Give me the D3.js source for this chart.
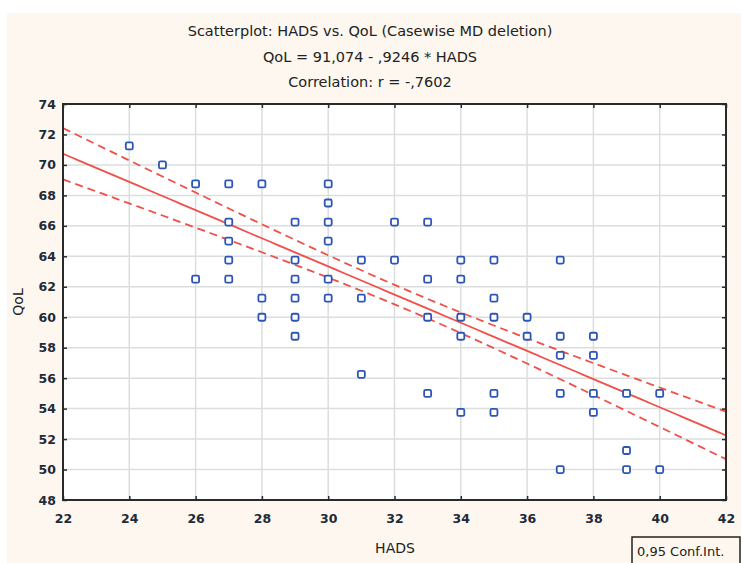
<!DOCTYPE html>
<html lang="en">
<head>
  <meta charset="utf-8">
  <title>HADS vs QoL</title>
  <style>
    body { margin: 0; background: #fff; }
    svg text { font-family: "DejaVu Sans", Verdana, sans-serif; }
  </style>
</head>
<body>
  <svg id="chart" width="743" height="563"></svg>

  <script src="https://d3js.org/d3.v7.min.js"></script>
  <script>

// data: HADS score and the QoL values seen at it
let hadsValues = [24, 25, 26, 27, 28, 29, 30, 31, 32, 33, 34, 35, 36, 37, 38, 39, 40]
let qolValues = [
  [71.25],
  [70],
  [68.75, 62.5],
  [68.75, 66.25, 65, 63.75, 62.5],
  [68.75, 61.25, 60],
  [66.25, 63.75, 62.5, 61.25, 60, 58.75],
  [68.75, 67.5, 66.25, 65, 62.5, 61.25],
  [63.75, 61.25, 56.25],
  [66.25, 63.75],
  [66.25, 62.5, 60, 55],
  [63.75, 62.5, 60, 58.75, 53.75],
  [63.75, 61.25, 60, 55, 53.75],
  [60, 58.75],
  [63.75, 58.75, 57.5, 55, 50],
  [58.75, 57.5, 55, 53.75],
  [55, 51.25, 50],
  [55, 50]
]

let xTicks = [22, 24, 26, 28, 30, 32, 34, 36, 38, 40, 42]
let yTicks = [48, 50, 52, 54, 56, 58, 60, 62, 64, 66, 68, 70, 72, 74]

// fit as printed in the title
let intercept = 91.074
let slope = -0.9246
let corr = -0.7602
// many markers are ties; the band width suggests ~112 cases in total
let nCases = 112
let titleLines = [
  "Scatterplot: HADS vs. QoL (Casewise MD deletion)",
  "QoL = 91,074 - ,9246  * HADS",
  "Correlation: r = -,7602"
]


let svg = d3.select("#chart")

// beige panel behind everything
svg.append("rect")
  .attr("x", 7).attr("y", 13)
  .attr("width", 734).attr("height", 560)
  .attr("fill", "#fdf7ef")

let x = d3.scaleLinear().domain([22, 42]).range([63, 726])
let y = d3.scaleLinear().domain([48, 74]).range([500, 104])

let plot = svg.append("g")

plot.append("rect")
  .attr("x", x(22)).attr("y", y(74))
  .attr("width", x(42) - x(22)).attr("height", y(48) - y(74))
  .attr("fill", "#fff")

// grid
plot.append("g").selectAll("line").data(xTicks.slice(1, -1))
  .enter().append("line")
    .attr("x1", d => x(d)).attr("x2", d => x(d))
    .attr("y1", y(74)).attr("y2", y(48))
    .attr("stroke", "#dadede").attr("stroke-width", 1.5)

plot.append("g").selectAll("line").data(yTicks.slice(1, -1))
  .enter().append("line")
    .attr("y1", d => y(d)).attr("y2", d => y(d))
    .attr("x1", x(22)).attr("x2", x(42))
    .attr("stroke", "#dadede").attr("stroke-width", 1.5)

// flatten points
let points = []
hadsValues.forEach((h, i) => {
  qolValues[i].forEach(q => points.push({x: h, y: q}))
})

// 95% confidence band for the fitted mean
// residual SE taken from the printed slope and r
let n = points.length
let mx = d3.mean(points, d => d.x)
let sxx = d3.sum(points, d => (d.x - mx) * (d.x - mx)) * nCases / n
let ssy = slope * slope * sxx / (corr * corr)
let se = Math.sqrt(ssy * (1 - corr * corr) / (nCases - 2))
let tval = 1.982

let xs = d3.range(22, 42.001, 0.25)
function band(sign) {
  return xs.map(v => {
    let half = tval * se * Math.sqrt(1 / nCases + (v - mx) * (v - mx) / sxx)
    return [v, intercept + slope * v + sign * half]
  })
}

let line = d3.line().x(d => x(d[0])).y(d => y(d[1]))

svg.append("clipPath").attr("id", "clip")
  .append("rect")
    .attr("x", x(22)).attr("y", y(74))
    .attr("width", x(42) - x(22)).attr("height", y(48) - y(74))

let fits = plot.append("g").attr("clip-path", "url(#clip)")

fits.append("path")
  .attr("d", line(xs.map(v => [v, intercept + slope * v])))
  .attr("fill", "none").attr("stroke", "#f0504a").attr("stroke-width", 1.8)

;[1, -1].forEach(s => {
  fits.append("path")
    .attr("d", line(band(s)))
    .attr("fill", "none").attr("stroke", "#f0504a").attr("stroke-width", 1.8)
    .attr("stroke-dasharray", "8,5")
})

// markers
plot.append("g").selectAll("rect").data(points)
  .enter().append("rect")
    .attr("x", d => x(d.x) - 3.5).attr("y", d => y(d.y) - 3.5)
    .attr("width", 7).attr("height", 7).attr("rx", 1.5)
    .attr("fill", "#fff").attr("stroke", "#2d55b5").attr("stroke-width", 1.8)

// frame
plot.append("rect")
  .attr("x", x(22)).attr("y", y(74))
  .attr("width", x(42) - x(22)).attr("height", y(48) - y(74))
  .attr("fill", "none").attr("stroke", "#2a2a2a").attr("stroke-width", 2)

// axes with inner ticks
let axisX = d3.axisBottom(x).tickValues(xTicks).tickSize(-4).tickPadding(14)
let axisY = d3.axisLeft(y).tickValues(yTicks).tickSize(-4).tickPadding(7)

svg.append("g").attr("transform", "translate(0," + y(48) + ")").call(axisX)
svg.append("g").attr("transform", "translate(" + x(22) + ",0)").call(axisY)
svg.append("g").attr("transform", "translate(" + x(42) + ",0)")
  .call(d3.axisRight(y).tickValues(yTicks).tickSize(-4).tickFormat(""))
svg.append("g").attr("transform", "translate(0," + y(74) + ")")
  .call(d3.axisTop(x).tickValues(xTicks).tickSize(-4).tickFormat(""))

svg.selectAll(".domain").remove()
svg.selectAll(".tick line").attr("stroke", "#2a2a2a").attr("stroke-width", 1.5)
svg.selectAll(".tick text")
  .attr("font-size", 12.5).attr("font-weight", "bold").attr("fill", "#1f2a3a")

// titles
svg.append("g").selectAll("text").data(titleLines)
  .enter().append("text")
    .attr("x", 370).attr("y", (d, i) => 36 + i * 25.5)
    .attr("text-anchor", "middle")
    .attr("font-size", 14.5).attr("fill", "#222")
    .text(d => d)

svg.append("text")
  .attr("x", 395).attr("y", 553)
  .attr("text-anchor", "middle").attr("font-size", 14).attr("fill", "#222")
  .text("HADS")

svg.append("text")
  .attr("transform", "translate(23,302) rotate(-90)")
  .attr("text-anchor", "middle").attr("font-size", 14).attr("fill", "#222")
  .text("QoL")

// legend box
svg.append("rect")
  .attr("x", 632).attr("y", 537).attr("width", 108).attr("height", 30)
  .attr("fill", "#fdf7ef").attr("stroke", "#222").attr("stroke-width", 1.5)
svg.append("text")
  .attr("x", 637).attr("y", 556).attr("font-size", 13).attr("fill", "#222")
  .text("0,95 Conf.Int.")

  </script>
</body>
</html>
